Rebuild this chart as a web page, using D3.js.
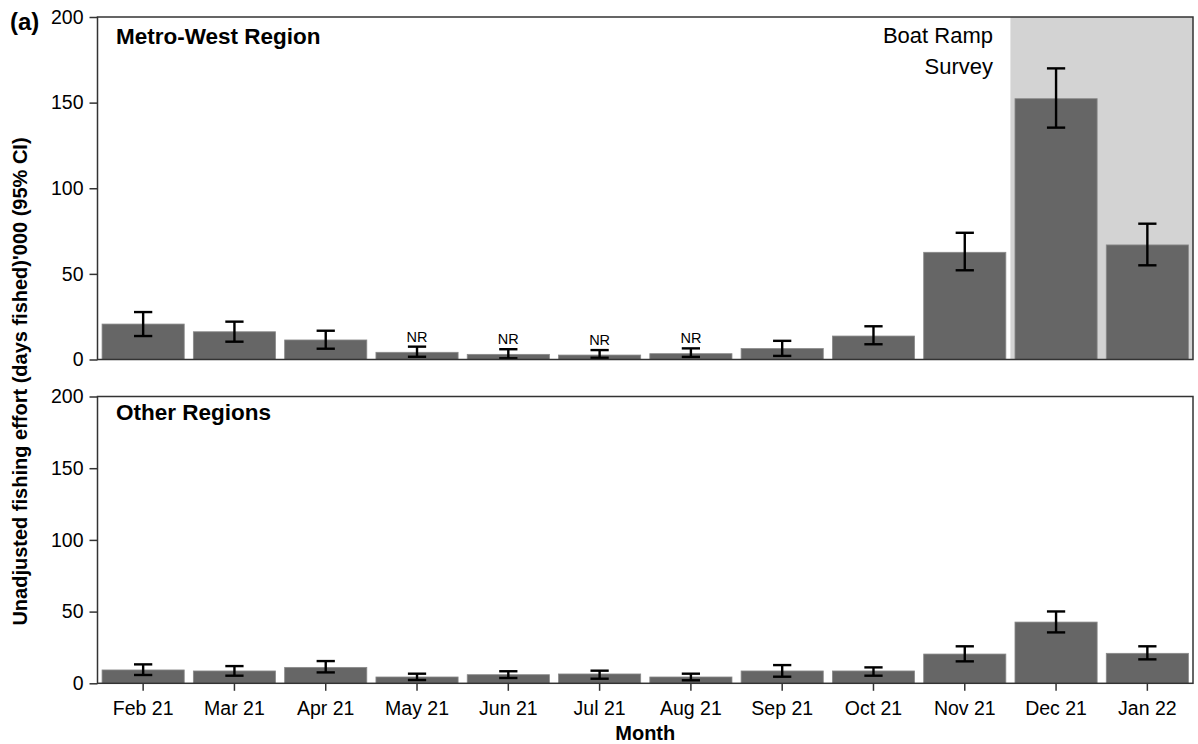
<!DOCTYPE html>
<html>
<head>
<meta charset="utf-8">
<script src="https://cdn.jsdelivr.net/npm/d3@7"></script>
<style>
  html, body { margin: 0; padding: 0; background: #fff; }
  svg { display: block; font-family: "Liberation Sans", Arial, sans-serif; }
</style>
</head>
<body>
<svg id="chart" width="1198" height="744"></svg>
<script>
// Monthly categories
const months = ["Feb 21", "Mar 21", "Apr 21", "May 21", "Jun 21", "Jul 21",
                "Aug 21", "Sep 21", "Oct 21", "Nov 21", "Dec 21", "Jan 22"];

// Metro-West Region: estimate and 95% CI ('000 days fished)
const metroEst  = [20.7, 16.2, 11.4, 4.2, 3.0, 2.6, 3.4, 6.4, 13.7, 62.6, 152.3, 66.9];
const metroLow  = [13.7, 10.4,  6.3, 1.6, 0.7, 1.0, 1.5, 2.1,  8.9, 52.1, 135.4, 55.0];
const metroHigh = [27.7, 22.1, 16.8, 7.5, 6.0, 5.5, 6.5, 10.9, 19.4, 74.0, 170.0, 79.3];

// Other Regions: estimate and 95% CI
const otherEst  = [9.3, 8.6, 11.1, 4.4, 6.0, 6.5, 4.4, 8.6,  8.6, 20.4, 42.7, 20.9];
const otherLow  = [5.8, 5.3,  7.6, 2.3, 3.7, 3.2, 2.1, 4.6,  5.3, 15.3, 35.5, 16.7];
const otherHigh = [13.2, 12.0, 15.5, 6.7, 8.4, 8.8, 6.7, 12.7, 11.1, 25.8, 50.1, 25.8];

// Months flagged "NR" in the Metro-West panel
const nrMonths = ["May 21", "Jun 21", "Jul 21", "Aug 21"];
// Months covered by the boat ramp survey
const boatRampMonths = ["Dec 21", "Jan 22"];

const yTicks = [0, 50, 100, 150, 200];

const svg = d3.select("#chart");

const left = 97.5, right = 1193;
const x = d3.scaleBand()
  .domain(months)
  .range([left, right])
  .paddingInner(0.1)
  .paddingOuter(0.05);

const panels = [
  { title: "Metro-West Region", top: 17, bottom: 359.5, titleY: 43.5,
    est: metroEst, low: metroLow, high: metroHigh, shade: true, nr: true, xAxis: false },
  { title: "Other Regions", top: 396.5, bottom: 683.3, titleY: 419.5,
    est: otherEst, low: otherLow, high: otherHigh, shade: false, nr: false, xAxis: true }
];

const frameColor = "#333333";
const barColor = "#666666";

panels.forEach(p => {
  const y = d3.scaleLinear().domain([0, 200]).range([p.bottom, p.top]);
  const g = svg.append("g");

  // Shaded survey period
  if (p.shade) {
    const x0 = x(boatRampMonths[0]) - x.step() * x.paddingInner() / 2;
    g.append("rect")
      .attr("x", x0).attr("y", p.top)
      .attr("width", right - x0).attr("height", p.bottom - p.top)
      .attr("fill", "#d3d3d3");
  }

  const rows = months.map((m, i) => ({ m, est: p.est[i], low: p.low[i], high: p.high[i] }));

  // Bars
  g.selectAll("rect.bar").data(rows).enter().append("rect")
    .attr("class", "bar")
    .attr("x", d => x(d.m))
    .attr("width", x.bandwidth())
    .attr("y", d => y(d.est))
    .attr("height", d => y(0) - y(d.est))
    .attr("fill", barColor)
    .attr("stroke", "#8a8a8a")
    .attr("stroke-width", 0.8);

  // Error bars
  const capHalf = x.step() * 0.1;
  const cx = d => x(d.m) + x.bandwidth() / 2;
  const eb = g.selectAll("g.err").data(rows).enter().append("g")
    .attr("class", "err")
    .attr("stroke", "#000").attr("stroke-width", 2.4).attr("fill", "none");
  eb.append("line")
    .attr("x1", cx).attr("x2", cx)
    .attr("y1", d => y(d.low)).attr("y2", d => y(d.high));
  eb.append("line")
    .attr("x1", d => cx(d) - capHalf).attr("x2", d => cx(d) + capHalf)
    .attr("y1", d => y(d.low)).attr("y2", d => y(d.low));
  eb.append("line")
    .attr("x1", d => cx(d) - capHalf).attr("x2", d => cx(d) + capHalf)
    .attr("y1", d => y(d.high)).attr("y2", d => y(d.high));

  // NR labels
  if (p.nr) {
    g.selectAll("text.nr").data(rows.filter(d => nrMonths.includes(d.m))).enter().append("text")
      .attr("class", "nr")
      .attr("x", cx)
      .attr("y", d => y(d.high) - 5)
      .attr("text-anchor", "middle")
      .attr("font-size", 14.5)
      .attr("fill", "#000")
      .text("NR");
  }

  // Panel frame
  g.append("rect")
    .attr("x", left).attr("y", p.top)
    .attr("width", right - left).attr("height", p.bottom - p.top)
    .attr("fill", "none").attr("stroke", frameColor).attr("stroke-width", 1.5);

  // Y axis
  const yAxis = d3.axisLeft(y).tickValues(yTicks).tickSize(8).tickPadding(6).tickFormat(d3.format("d"));
  const ya = svg.append("g").attr("transform", `translate(${left},0)`).call(yAxis);
  ya.select(".domain").remove();
  ya.selectAll(".tick line").attr("stroke", frameColor).attr("stroke-width", 1.5);
  ya.selectAll(".tick text").attr("font-size", 19.5).attr("fill", "#000")
    .attr("font-family", "'Liberation Sans', Arial, sans-serif");

  // X axis on the lower panel
  if (p.xAxis) {
    const xAxis = d3.axisBottom(x).tickSize(7.5).tickPadding(10);
    const xa = svg.append("g").attr("transform", `translate(0,${p.bottom})`).call(xAxis);
    xa.select(".domain").remove();
    xa.selectAll(".tick line").attr("stroke", frameColor).attr("stroke-width", 1.5);
    xa.selectAll(".tick text").attr("font-size", 19.5).attr("fill", "#000")
      .attr("font-family", "'Liberation Sans', Arial, sans-serif");
  }

  // Panel title
  svg.append("text")
    .attr("x", 116).attr("y", p.titleY)
    .attr("font-size", 22.5).attr("font-weight", "bold").attr("fill", "#000")
    .text(p.title);
});

// Survey annotation
const ann = svg.append("g").attr("font-size", 22).attr("fill", "#000").attr("text-anchor", "end");
ann.append("text").attr("x", 993).attr("y", 42.5).text("Boat Ramp");
ann.append("text").attr("x", 993).attr("y", 73.5).text("Survey");

// Panel label
svg.append("text")
  .attr("x", 10).attr("y", 30)
  .attr("font-size", 24).attr("font-weight", "bold").attr("fill", "#000")
  .text("(a)");

// Axis titles
svg.append("text")
  .attr("x", (left + right) / 2).attr("y", 740)
  .attr("text-anchor", "middle")
  .attr("font-size", 20).attr("font-weight", "bold").attr("fill", "#000")
  .text("Month");

svg.append("text")
  .attr("transform", "translate(27,381.5) rotate(-90)")
  .attr("text-anchor", "middle")
  .attr("font-size", 20).attr("font-weight", "bold").attr("fill", "#000")
  .text("Unadjusted fishing effort (days fished)'000 (95% CI)");
</script>
</body>
</html>
